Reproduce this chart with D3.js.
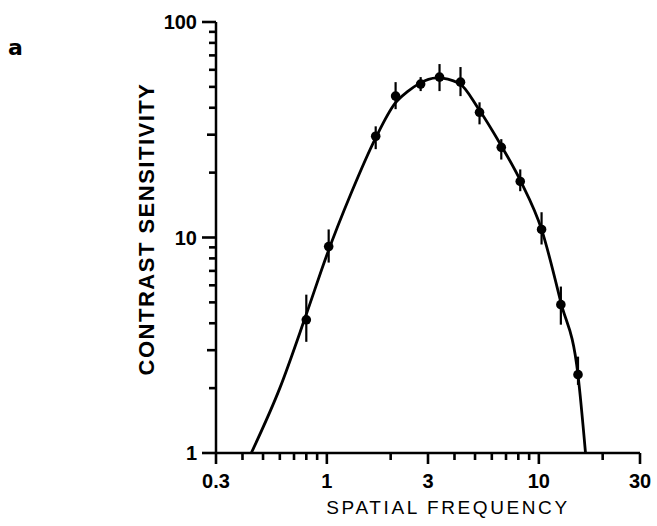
<!DOCTYPE html>
<html lang="en">
<head>
    <meta charset="UTF-8">
    <title>Contrast sensitivity</title>
    <script src="https://cdnjs.cloudflare.com/ajax/libs/d3/7.8.5/d3.min.js"></script>
    <style>
        body { margin: 0; background: #fff; }
        text { fill: #000; }
    </style>
</head>
<body>
<script>

    // measured points (spatial frequency, contrast sensitivity, error bar low / high)
    var freq   = [0.80, 1.02, 1.70, 2.11, 2.77, 3.40, 4.27, 5.25, 6.65, 8.17, 10.3, 12.7, 15.3];
    var sens   = [4.15, 9.08, 29.5, 45.3, 51.5, 55.5, 52.6, 38.1, 26.2, 18.2, 10.9, 4.88, 2.31];
    var errLo  = [3.28, 7.65, 25.7, 39.4, 47.8, 47.8, 45.3, 33.5, 23.0, 16.4, 9.28, 3.94, 2.07];
    var errHi  = [5.43, 10.9, 32.8, 52.6, 55.5, 63.8, 61.8, 42.4, 28.6, 20.7, 13.1, 5.92, 2.80];

    // fitted curve
    var curveFreq = [0.44, 0.6, 0.8, 1.0, 1.3, 1.7, 2.1, 2.4, 2.7, 3.3, 4.2, 5.2, 6.6, 8.2, 10.3, 12.7, 15.3, 16.6];
    var curveSens = [1.0, 2.0, 4.4, 8.3, 16.0, 29, 42, 47.5, 51.5, 55, 52, 39.5, 27, 18.3, 10.9, 5.0, 2.3, 1.0];

    var xMajor = [0.3, 1, 3, 10, 30];
    var xMinor = [0.4, 0.5, 0.6, 0.7, 0.8, 0.9, 2, 4, 5, 6, 7, 8, 9, 20];
    var yMajor = [1, 10, 100];
    var yMid   = [3, 30];
    var yMinor = [2, 4, 5, 6, 7, 8, 9, 20, 40, 50, 60, 70, 80, 90];

    var W = 657, H = 526;
    var x0 = 216, x1 = 640, yBot = 453, yTop = 22;
    var font = "'Liberation Sans', Arial, sans-serif";

    var svg = d3.select("body")
            .append("svg")
            .attr("width", W)
            .attr("height", H);

    var x = d3.scaleLog().domain([0.3, 30]).range([x0, x1]);
    var y = d3.scaleLog().domain([1, 100]).range([yBot, yTop]);

    // axis lines
    svg.append("line")
            .attr("x1", x(0.3)).attr("x2", x(30))
            .attr("y1", y(1)).attr("y2", y(1))
            .attr("stroke", "#000").attr("stroke-width", 2.5);
    svg.append("line")
            .attr("x1", x(0.3)).attr("x2", x(0.3))
            .attr("y1", y(1)).attr("y2", y(100))
            .attr("stroke", "#000").attr("stroke-width", 2.5);

    // x ticks
    var xt = xMinor.map(function(v) { return { v: v, len: 7 }; })
            .concat(xMajor.map(function(v) { return { v: v, len: 11 }; }));
    svg.selectAll(".xtick")
            .data(xt)
            .enter()
            .append("path").attr("class", "xtick")
            .attr("d", function(d) {
                return "M" + x(d.v) + "," + y(1) + "v" + d.len;
            })
            .attr("stroke", "#000")
            .attr("stroke-width", 2.6);

    svg.selectAll(".xlab")
            .data(xMajor)
            .enter()
            .append("text").attr("class", "xlab")
            .attr("x", function(d) { return x(d); })
            .attr("y", 488)
            .attr("text-anchor", "middle")
            .style("font-family", font)
            .style("font-size", "20px")
            .style("font-weight", "bold")
            .text(function(d) { return d === 0.3 ? "0.3" : String(d); });

    // y ticks
    var yt = yMinor.map(function(v) { return { v: v, len: 7 }; })
            .concat(yMid.map(function(v) { return { v: v, len: 9 }; }))
            .concat(yMajor.map(function(v) { return { v: v, len: 14 }; }));
    svg.selectAll(".ytick")
            .data(yt)
            .enter()
            .append("path").attr("class", "ytick")
            .attr("d", function(d) {
                return "M" + x(0.3) + "," + y(d.v) + "h" + (-d.len);
            })
            .attr("stroke", "#000")
            .attr("stroke-width", 2.6);

    svg.selectAll(".ylab")
            .data(yMajor)
            .enter()
            .append("text").attr("class", "ylab")
            .attr("x", x(0.3) - 19)
            .attr("y", function(d) { return y(d); })
            .attr("dy", "0.36em")
            .attr("text-anchor", "end")
            .style("font-family", font)
            .style("font-size", "20px")
            .style("font-weight", "bold")
            .text(function(d) { return String(d); });

    // curve
    var line = d3.line()
            .x(function(d) { return x(d[0]); })
            .y(function(d) { return y(d[1]); })
            .curve(d3.curveMonotoneX);

    svg.append("path")
            .datum(d3.zip(curveFreq, curveSens))
            .attr("d", line)
            .attr("fill", "none")
            .attr("stroke", "#000")
            .attr("stroke-width", 2.8);

    // error bars + points
    var pts = freq.map(function(f, i) {
        return { f: f, s: sens[i], lo: errLo[i], hi: errHi[i] };
    });

    svg.selectAll(".err")
            .data(pts)
            .enter()
            .append("line").attr("class", "err")
            .attr("x1", function(d) { return x(d.f); })
            .attr("x2", function(d) { return x(d.f); })
            .attr("y1", function(d) { return y(d.lo); })
            .attr("y2", function(d) { return y(d.hi); })
            .attr("stroke", "#000")
            .attr("stroke-width", 2.2);

    svg.selectAll(".pt")
            .data(pts)
            .enter()
            .append("circle").attr("class", "pt")
            .attr("cx", function(d) { return x(d.f); })
            .attr("cy", function(d) { return y(d.s); })
            .attr("r", 4.8)
            .attr("fill", "#000");

    // labels
    svg.append("text")
            .attr("x", 448).attr("y", 514)
            .attr("text-anchor", "middle")
            .style("font-family", font)
            .style("font-size", "19px")
            .style("letter-spacing", "2.6px")
            .text("SPATIAL FREQUENCY");

    svg.append("text")
            .attr("transform", "translate(154,229) rotate(-90)")
            .attr("text-anchor", "middle")
            .style("font-family", font)
            .style("font-size", "22px")
            .style("font-weight", "bold")
            .style("letter-spacing", "1.5px")
            .text("CONTRAST SENSITIVITY");

    svg.append("text")
            .attr("x", 8).attr("y", 55)
            .style("font-family", "'DejaVu Sans', sans-serif")
            .style("font-size", "22px")
            .style("font-weight", "bold")
            .text("a");

</script>
</body>
</html>
